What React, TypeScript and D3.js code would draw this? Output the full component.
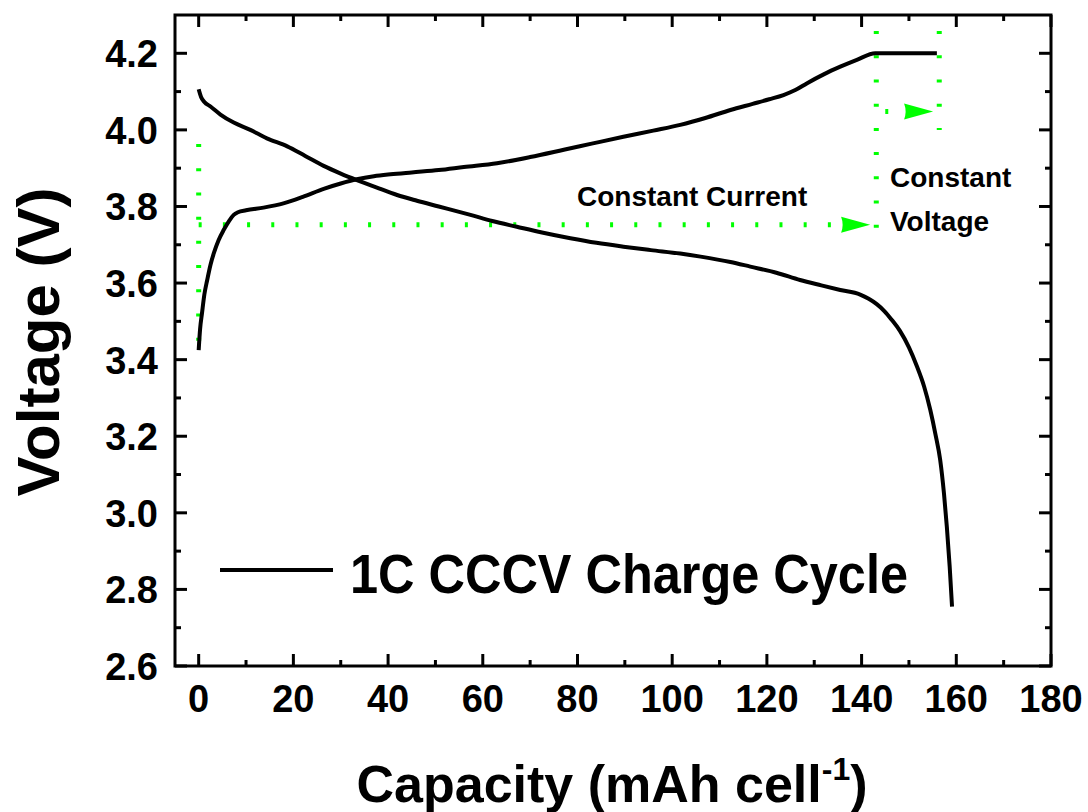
import React from "react";
import * as d3 from "d3";

// Charge curve (capacity mAh/cell, voltage V)
const chargeCap = [0, 0.3, 0.7, 1.2, 1.8, 2.5, 3.2, 4.2, 5.3, 6.4, 7.4, 8.3, 10, 13.7, 17.9, 22, 26.4, 30, 33.4, 37, 40.5, 45, 50.7, 56, 63, 70, 77.1, 83, 89.7, 96, 101.7, 107, 112.3, 117, 120.5, 123.5, 126, 128.5, 132, 135.5, 139, 142.9, 150, 155.9];
const chargeV = [3.425, 3.48, 3.521, 3.57, 3.608, 3.648, 3.678, 3.712, 3.739, 3.762, 3.778, 3.785, 3.79, 3.797, 3.808, 3.825, 3.846, 3.86, 3.871, 3.879, 3.884, 3.889, 3.895, 3.903, 3.913, 3.929, 3.948, 3.964, 3.982, 3.998, 4.013, 4.031, 4.052, 4.068, 4.08, 4.091, 4.104, 4.122, 4.145, 4.165, 4.183, 4.2, 4.2, 4.2];

// Discharge curve
const dischCap = [0, 0.5, 1.2, 2.5, 4.6, 7.4, 10.9, 14.4, 18.7, 22.5, 26.4, 30, 33.4, 37.5, 41.9, 46.1, 50.7, 57.4, 62, 67.2, 72.5, 78.5, 84, 89.7, 95.5, 101.7, 106, 112.3, 116.5, 122, 127, 131.5, 135.5, 139.7, 141.5, 143.2, 144.8, 146.3, 148.1, 150, 151.7, 153.2, 154.5, 155.6, 156.6, 157.4, 158, 158.6, 159.1];
const dischV = [4.106, 4.086, 4.073, 4.061, 4.04, 4.019, 4.0, 3.978, 3.957, 3.932, 3.906, 3.886, 3.869, 3.85, 3.83, 3.815, 3.8, 3.778, 3.762, 3.747, 3.732, 3.717, 3.705, 3.695, 3.686, 3.677, 3.669, 3.655, 3.643, 3.627, 3.608, 3.594, 3.582, 3.57, 3.559, 3.545, 3.527, 3.505, 3.475, 3.432, 3.382, 3.33, 3.269, 3.205, 3.138, 3.05, 2.964, 2.86, 2.755];

const xMajor = [0, 20, 40, 60, 80, 100, 120, 140, 160, 180];
const xMinor = [10, 30, 50, 70, 90, 110, 130, 150, 170];
const yMajor = [2.6, 2.8, 3.0, 3.2, 3.4, 3.6, 3.8, 4.0, 4.2];
const yMinor = [2.7, 2.9, 3.1, 3.3, 3.5, 3.7, 3.9, 4.1];

// Annotation guides [cap1, V1, cap2, V2]
const guideCV0 = [0, 3.963, 0, 3.395];
const guideCC = [0, 3.752, 141.8, 3.752];
const guideSplit = [143.1, 4.258, 143.1, 3.692];
const guideEnd = [156.4, 4.258, 156.4, 4.0];
const arrowCV = [145.0, 4.048, 155.1, 4.048];

const legendLabel = "1C CCCV Charge Cycle";
const ccLabel = "Constant Current";
const cvLabel1 = "Constant";
const cvLabel2 = "Voltage";

export default function App() {
  const W = 1088, H = 812;
  const x = d3.scaleLinear().domain([-5, 180]).range([175, 1051]);
  const y = d3.scaleLinear().domain([2.6, 4.3]).range([666, 15]);
  const line = d3
    .line<[number, number]>()
    .x((d) => x(d[0]))
    .y((d) => y(d[1]))
    .curve(d3.curveMonotoneX);
  const charge = chargeCap.map((c, i) => [c, chargeV[i]] as [number, number]);
  const disch = dischCap.map((c, i) => [c, dischV[i]] as [number, number]);

  const font = "'Liberation Sans', Arial, Helvetica, sans-serif";
  const green = "#00ff00";
  const left = x.range()[0], right = x.range()[1];
  const top = y.range()[1], bottom = y.range()[0];
  const dash = "3 21.2";

  const dotted = (g: number[], key: string) => (
    <line
      key={key}
      x1={x(g[0])}
      y1={y(g[1])}
      x2={x(g[2])}
      y2={y(g[3])}
      stroke={green}
      strokeWidth={5}
      strokeDasharray={dash}
    />
  );
  const arrowHead = (tx: number, ty: number, key: string) => (
    <path
      key={key}
      d={`M${tx},${ty} L${tx - 29},${ty - 8} Q${tx - 26},${ty} ${tx - 29},${ty + 8} Z`}
      fill={green}
    />
  );

  return (
    <svg width={W} height={H} style={{ position: "absolute", left: 0, top: 0, background: "#fff" }}>
      <rect x={0} y={0} width={W} height={H} fill="#fff" />
      {/* guides */}
      {dotted(guideCV0, "g0")}
      {dotted(guideCC, "g1")}
      {dotted(guideSplit, "g2")}
      {dotted(guideEnd, "g3")}
      <line x1={x(arrowCV[0])} y1={y(arrowCV[1])} x2={x(arrowCV[2]) - 20} y2={y(arrowCV[3])} stroke={green} strokeWidth={5} strokeDasharray={dash} />
      {arrowHead(x(guideCC[2]), y(guideCC[3]), "a1")}
      {arrowHead(x(arrowCV[2]), y(arrowCV[3]), "a2")}

      {/* curves */}
      <path d={line(disch) || ""} fill="none" stroke="#000" strokeWidth={4} strokeLinejoin="round" />
      <path d={line(charge) || ""} fill="none" stroke="#000" strokeWidth={4} strokeLinejoin="round" />

      {/* frame */}
      <rect x={left} y={top} width={right - left} height={bottom - top} fill="none" stroke="#000" strokeWidth={3} />
      {xMajor.map((v) => (
        <g key={"xM" + v}>
          <line x1={x(v)} x2={x(v)} y1={bottom} y2={bottom - 12} stroke="#000" strokeWidth={3} />
          <line x1={x(v)} x2={x(v)} y1={top} y2={top + 12} stroke="#000" strokeWidth={3} />
          <text x={x(v)} y={712} textAnchor="middle" fontFamily={font} fontWeight="bold" fontSize={38} fill="#000">
            {v}
          </text>
        </g>
      ))}
      {xMinor.map((v) => (
        <g key={"xm" + v}>
          <line x1={x(v)} x2={x(v)} y1={bottom} y2={bottom - 6} stroke="#000" strokeWidth={3} />
          <line x1={x(v)} x2={x(v)} y1={top} y2={top + 6} stroke="#000" strokeWidth={3} />
        </g>
      ))}
      {yMajor.map((v) => (
        <g key={"yM" + v}>
          <line x1={left} x2={left + 12} y1={y(v)} y2={y(v)} stroke="#000" strokeWidth={3} />
          <line x1={right} x2={right - 12} y1={y(v)} y2={y(v)} stroke="#000" strokeWidth={3} />
          <text x={158} y={y(v) + 14} textAnchor="end" fontFamily={font} fontWeight="bold" fontSize={38} fill="#000">
            {v.toFixed(1)}
          </text>
        </g>
      ))}
      {yMinor.map((v) => (
        <g key={"ym" + v}>
          <line x1={left} x2={left + 6} y1={y(v)} y2={y(v)} stroke="#000" strokeWidth={3} />
          <line x1={right} x2={right - 6} y1={y(v)} y2={y(v)} stroke="#000" strokeWidth={3} />
        </g>
      ))}

      {/* annotations */}
      <text x={577} y={206} fontFamily={font} fontWeight="bold" fontSize={28} fill="#000">{ccLabel}</text>
      <text x={890} y={187} fontFamily={font} fontWeight="bold" fontSize={28} fill="#000">{cvLabel1}</text>
      <text x={890} y={231} fontFamily={font} fontWeight="bold" fontSize={28} fill="#000">{cvLabel2}</text>

      {/* legend */}
      <line x1={220} x2={333} y1={570} y2={570} stroke="#000" strokeWidth={4} />
      <text x={350} y={593} fontFamily={font} fontWeight="bold" fontSize={56} textLength={558} lengthAdjust="spacingAndGlyphs" fill="#000">
        {legendLabel}
      </text>

      {/* axis titles */}
      <text
        transform="translate(59,342) rotate(-90)"
        textAnchor="middle"
        fontFamily={font}
        fontWeight="bold"
        fontSize={60}
        fill="#000"
      >
        Voltage (V)
      </text>
      <text x={612} y={802} textAnchor="middle" fontFamily={font} fontWeight="bold" fontSize={52} fill="#000">
        Capacity (mAh cell
        <tspan dy={-22} fontSize={32}>-1</tspan>
        <tspan dy={22}>)</tspan>
      </text>
    </svg>
  );
}
